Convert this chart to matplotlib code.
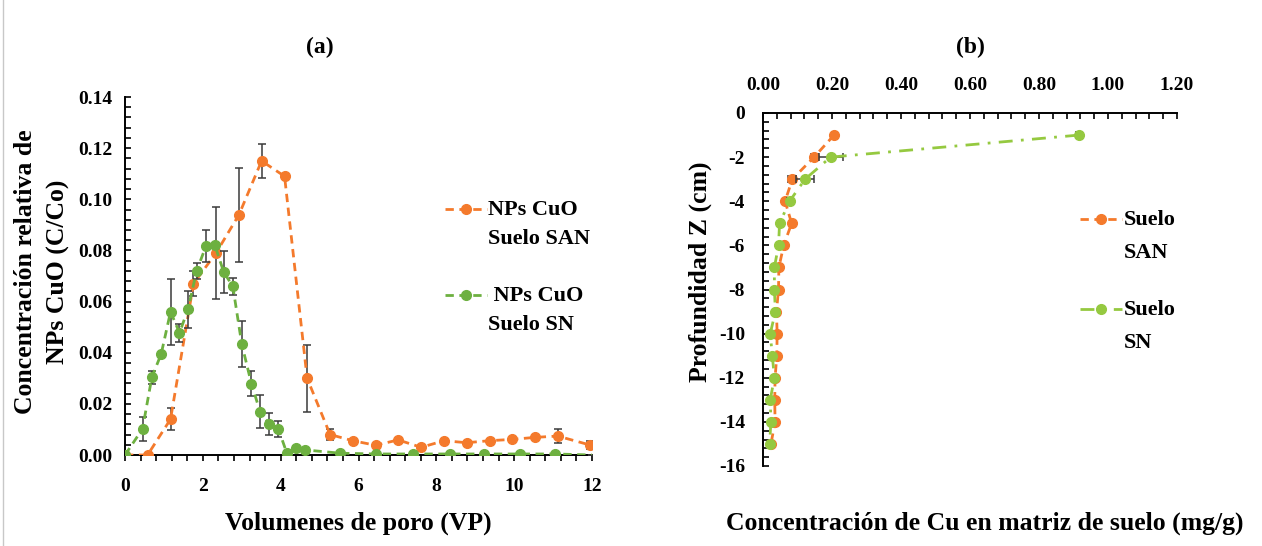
import matplotlib
matplotlib.use("Agg")
import matplotlib.pyplot as plt
from matplotlib.lines import Line2D
from matplotlib.ticker import MultipleLocator, FormatStrFormatter
from matplotlib.legend_handler import HandlerLine2D

plt.rcParams['font.family'] = ['Liberation Serif', 'DejaVu Serif']
plt.rcParams['font.weight'] = 'bold'
plt.rcParams['axes.unicode_minus'] = False

# ---------------- data (a) ----------------
vp_san = [0.0, 0.58, 1.17, 1.76, 2.34, 2.93, 3.51, 4.10, 4.68, 5.27, 5.85, 6.44,
          7.02, 7.61, 8.20, 8.78, 9.37, 9.95, 10.54, 11.12, 11.95]
c_san = [0.000, 0.000, 0.014, 0.067, 0.079, 0.094, 0.115, 0.109, 0.030, 0.008,
         0.0056, 0.0038, 0.0059, 0.0030, 0.0056, 0.0048, 0.0056, 0.0061, 0.0069,
         0.0074, 0.0039]
err_san = [0, 0, 0.0042, 0.005, 0.018, 0.0184, 0.0065, 0, 0.013, 0.002,
           0, 0, 0, 0, 0, 0, 0, 0, 0, 0.0026, 0.0015]

vp_sn = [0.0, 0.45, 0.69, 0.93, 1.17, 1.40, 1.62, 1.84, 2.08, 2.31, 2.54, 2.77,
         3.00, 3.25, 3.47, 3.71, 3.94, 4.16, 4.39, 4.62, 5.53, 6.45, 7.40, 8.34,
         9.22, 10.16, 11.06, 12.0]
c_sn = [0.0, 0.0102, 0.0304, 0.0395, 0.056, 0.0478, 0.057, 0.072, 0.0817, 0.082,
        0.0714, 0.066, 0.0434, 0.0278, 0.017, 0.0121, 0.0102, 0.0007, 0.0026,
        0.0020, 0.0007, 0.0004, 0.0004, 0.0004, 0.0004, 0.0004, 0.0004, 0.0]
err_sn = [0, 0.0046, 0.0026, 0, 0.013, 0.0035, 0.0072, 0.003, 0.0062, 0,
          0.0082, 0.0033, 0.0091, 0.0049, 0.0065, 0.0042, 0.003, 0, 0.001, 0,
          0, 0, 0, 0, 0, 0, 0, 0]

# ---------------- data (b) ----------------
depth = [-1, -2, -3, -4, -5, -6, -7, -8, -9, -10, -11, -12, -13, -14, -15]
cu_san = [0.206, 0.148, 0.085, 0.064, 0.083, 0.060, 0.046, 0.045, 0.039, 0.041,
          0.040, 0.035, 0.034, 0.035, 0.023]
xerr_san = [0.005, 0.010, 0.012, 0.004, 0.004, 0.003, 0.002, 0.002, 0.002, 0.002,
            0.002, 0.002, 0.002, 0.002, 0.002]
cu_sn = [0.916, 0.196, 0.122, 0.077, 0.048, 0.045, 0.033, 0.033, 0.036, 0.021,
         0.027, 0.033, 0.021, 0.023, 0.019]
xerr_sn = [0.008, 0.035, 0.026, 0.006, 0.003, 0.003, 0.002, 0.002, 0.002, 0.002,
           0.002, 0.002, 0.002, 0.002, 0.002]

ORANGE = '#F47A2C'
GREEN_A = '#6DB040'
GREEN_B = '#95C940'
ERRC = '#3A3A3A'

W, H = 1262, 546
fig = plt.figure(figsize=(W / 100, H / 100), dpi=100)

def fx(px):
    return px / W

def fy(py):
    return 1 - py / H


class TopHandler(HandlerLine2D):
    def __init__(self, shift, **kw):
        super().__init__(**kw)
        self.shift = shift

    def create_artists(self, legend, orig_handle, xdescent, ydescent, width,
                       height, fontsize, trans):
        return super().create_artists(legend, orig_handle, xdescent,
                                      ydescent - 2 * self.shift, width, height,
                                      fontsize, trans)

TICK_FS = 14
LAB_FS = 18.5
LEG_FS = 16

# thin gray border line at left edge (as in the reference scan)
fig.add_artist(Line2D([fx(3), fx(3)], [0, 1], transform=fig.transFigure,
                      color='#C8C8C8', lw=1))

# ---------------- panel (a) ----------------
axa = fig.add_axes([fx(125), fy(455), fx(592) - fx(125), fy(97) - fy(455)])
la = axa.errorbar(vp_san, c_san, yerr=err_san, color=ORANGE, ls=(0, (3, 2)), lw=2,
                  marker='o', ms=7, ecolor=ERRC, elinewidth=1.1, capsize=3,
                  capthick=1.1, zorder=3)
lb = axa.errorbar(vp_sn, c_sn, yerr=err_sn, color=GREEN_A, ls=(0, (3, 2)), lw=2,
                  marker='o', ms=7, ecolor=ERRC, elinewidth=1.1, capsize=3,
                  capthick=1.1, markevery=list(range(len(vp_sn) - 1)), zorder=4)
axa.set_xlim(0, 12)
axa.set_ylim(0, 0.14)
axa.xaxis.set_major_locator(MultipleLocator(2))
axa.xaxis.set_minor_locator(MultipleLocator(0.4))
axa.yaxis.set_major_locator(MultipleLocator(0.02))
axa.yaxis.set_minor_locator(MultipleLocator(0.004))
axa.yaxis.set_major_formatter(FormatStrFormatter('%.2f'))
for s in ('top', 'right'):
    axa.spines[s].set_visible(False)
for s in ('left', 'bottom'):
    axa.spines[s].set_linewidth(1.4)
axa.tick_params(axis='x', which='both', direction='out', length=4.5, width=1.2,
                pad=12, labelsize=TICK_FS)
axa.tick_params(axis='y', which='both', direction='in', length=4.5, width=1.2,
                pad=9, labelsize=TICK_FS)
for t in axa.get_xticklabels() + axa.get_yticklabels():
    t.set_fontweight('bold')

fig.text(fx(320), fy(47), '(a)', ha='center', va='center', fontsize=17,
         fontweight='bold')
fig.text(fx(358), fy(523), 'Volumenes de poro (VP)', ha='center', va='center',
         fontsize=LAB_FS, fontweight='bold')
fig.text(fx(42), fy(272), 'Concentración relativa de\nNPs CuO (C/Co)', ha='center',
         va='center', rotation=90, fontsize=LAB_FS, fontweight='bold',
         linespacing=1.5)

leg_a = axa.legend([la[0], lb[0]], ['NPs CuO\nSuelo SAN', ' NPs CuO\nSuelo SN'],
                   loc='upper left', bbox_to_anchor=(fx(445), fy(200)),
                   bbox_transform=fig.transFigure, frameon=False,
                   prop={'size': LEG_FS, 'weight': 'bold'},
                   handlelength=1.9, handletextpad=0.05, labelspacing=1.67,
                   borderpad=0, borderaxespad=0,
                   handler_map={la[0]: TopHandler(10.8, numpoints=1),
                                lb[0]: TopHandler(10.8, numpoints=1)})
for t in leg_a.get_texts():
    t.set_linespacing(1.6)

# ---------------- panel (b) ----------------
axb = fig.add_axes([fx(763), fy(466), fx(1177) - fx(763), fy(113) - fy(466)])
lc = axb.errorbar(cu_san, depth, xerr=xerr_san, color=ORANGE, ls=(0, (3, 2)), lw=2,
                  marker='o', ms=7, ecolor=ERRC, elinewidth=1.1, capsize=3,
                  capthick=1.1, zorder=3)
ld = axb.errorbar(cu_sn, depth, xerr=xerr_sn, color=GREEN_B, ls=(0, (5, 3, 1, 3)),
                  lw=2, marker='o', ms=7, ecolor=ERRC, elinewidth=1.1, capsize=3,
                  capthick=1.1, zorder=4)
axb.set_xlim(0, 1.2)
axb.set_ylim(-16, 0)
axb.xaxis.set_major_locator(MultipleLocator(0.2))
axb.xaxis.set_minor_locator(MultipleLocator(0.04))
axb.xaxis.set_major_formatter(FormatStrFormatter('%.2f'))
axb.yaxis.set_major_locator(MultipleLocator(2))
axb.yaxis.set_minor_locator(MultipleLocator(0.4))
axb.xaxis.tick_top()
for s in ('bottom', 'right'):
    axb.spines[s].set_visible(False)
for s in ('left', 'top'):
    axb.spines[s].set_linewidth(1.4)
axb.tick_params(axis='x', which='both', direction='in', length=4.5, width=1.2,
                pad=14, labelsize=TICK_FS, top=True, bottom=False)
axb.tick_params(axis='y', which='both', direction='in', length=4.5, width=1.2,
                pad=13, labelsize=TICK_FS)
for t in axb.get_xticklabels() + axb.get_yticklabels():
    t.set_fontweight('bold')

fig.text(fx(970), fy(47), '(b)', ha='center', va='center', fontsize=17,
         fontweight='bold')
fig.text(fx(985), fy(523), 'Concentración de Cu en matriz de suelo (mg/g)',
         ha='center', va='center', fontsize=LAB_FS, fontweight='bold')
fig.text(fx(700), fy(272), 'Profundidad Z (cm)', ha='center', va='center',
         rotation=90, fontsize=LAB_FS, fontweight='bold')

leg_b = axb.legend([lc[0], ld[0]], ['Suelo\nSAN', 'Suelo\nSN'],
                   loc='upper left', bbox_to_anchor=(fx(1080), fy(210)),
                   bbox_transform=fig.transFigure, frameon=False,
                   prop={'size': LEG_FS, 'weight': 'bold'},
                   handlelength=1.9, handletextpad=0.05, labelspacing=1.69,
                   borderpad=0, borderaxespad=0,
                   handler_map={lc[0]: TopHandler(12.2, numpoints=1),
                                ld[0]: TopHandler(12.2, numpoints=1)})
for t in leg_b.get_texts():
    t.set_linespacing(1.85)

fig.savefig('out.png', dpi=100)
